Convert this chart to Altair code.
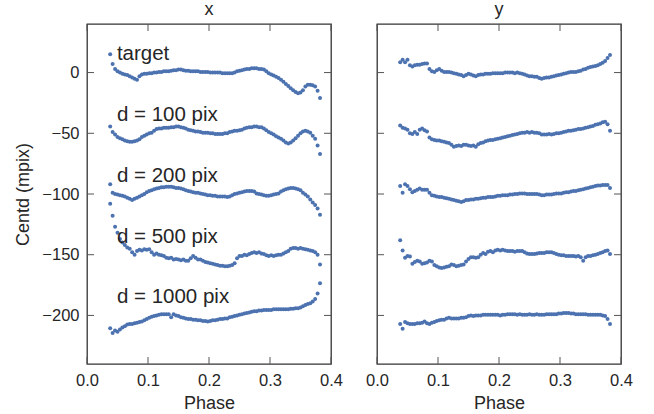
import altair as alt
import pandas as pd

# Orbital phase of each exposure
phase = [
    0.038, 0.042, 0.046, 0.050, 0.054, 0.058, 0.062, 0.066, 0.070, 0.074,
    0.078, 0.082, 0.086, 0.090, 0.094, 0.098, 0.102, 0.106, 0.110, 0.114,
    0.118, 0.122, 0.126, 0.130, 0.134, 0.138, 0.142, 0.146, 0.150, 0.154,
    0.158, 0.162, 0.166, 0.170, 0.174, 0.178, 0.182, 0.186, 0.190, 0.194,
    0.198, 0.202, 0.206, 0.210, 0.214, 0.218, 0.222, 0.226, 0.230, 0.234,
    0.238, 0.242, 0.246, 0.250, 0.254, 0.258, 0.262, 0.266, 0.270, 0.274,
    0.278, 0.282, 0.286, 0.290, 0.294, 0.298, 0.302, 0.306, 0.310, 0.314,
    0.318, 0.322, 0.326, 0.330, 0.334, 0.338, 0.342, 0.346, 0.350, 0.354,
    0.358, 0.362, 0.366, 0.370, 0.374, 0.378, 0.382,
]

series_names = ["target", "d = 100 pix", "d = 200 pix", "d = 500 pix", "d = 1000 pix"]
# each curve is shifted down by 50 mpix from the previous one
series_offsets = [0, -50, -100, -150, -200]

# Centroid shift along x (mpix, offsets included)
centd_x = {
    "target": [
        15, 7, 3, 1, 0, -1, -1.5, -2, -3, -4,
        -5, -6, -3, -1.5, -1, -1, -0.5, -0.5, 0, 0,
        0.5, 0.5, 1, 1, 1, 1.5, 2, 2, 2.5, 2.5,
        2, 1.5, 1.5, 1, 1, 1, 1, 0.5, 0.5, 0.5,
        0.5, 0, 0, 0, 0, 0, -0.5, -0.5, -0.5, -0.5,
        -0.5, 0, 1, 1.5, 2, 2.5, 3, 3, 3.5, 3.5,
        3.5, 3, 3, 2.5, 1, -0.5, -1.5, -2.5, -3.5, -4.5,
        -6, -7.5, -9.5, -11, -13, -14.5, -16, -17, -16.5, -14.5,
        -11.5, -10, -10, -10.5, -11.5, -15, -21,
    ],
    "d = 100 pix": [
        -44.5, -49, -51, -53, -54, -55, -56, -56.5, -57, -57,
        -56.5, -56, -55, -53, -52, -51, -50, -49.5, -48, -46.5,
        -46, -46, -45.5, -45.5, -45.5, -45, -45, -44.5, -44.5, -45,
        -45.5, -46, -47, -47.5, -48, -48.5, -48.5, -49, -49.5, -49.5,
        -49.5, -50, -50, -50.5, -50.5, -50.5, -50.5, -50, -50, -49,
        -48.5, -48, -48, -47.5, -47, -46, -45.5, -45, -45, -44.5,
        -44.5, -45, -45, -46, -47.5, -49, -50, -51, -52.5, -53.5,
        -54.5, -56, -57.5, -58.5, -57.5, -56, -54, -52, -50, -48.5,
        -48, -48.5, -49.5, -52, -54.5, -60, -67,
    ],
    "d = 200 pix": [
        -92, -99, -100, -100.5, -101, -101.5, -102, -103, -104, -105,
        -104, -103, -102, -101, -100, -98.5, -97.5, -97, -96, -95.5,
        -95, -94.5, -94.5, -94, -94, -94, -94.5, -95, -95, -95.5,
        -96, -97, -97.5, -98, -98.5, -99, -99, -99.5, -100, -100.5,
        -101, -101, -101.5, -101.5, -102, -102, -102, -102, -102.5, -102,
        -101, -100, -99.5, -99, -98.5, -98, -97.5, -97.5, -97.5, -98,
        -99.5, -100, -100.5, -101, -101.5, -101.5, -101, -100.5, -100, -99.5,
        -98, -97, -96, -95.5, -95, -95, -95.5, -96, -97, -99,
        -100.5, -102, -104.5, -107, -109, -112, -117,
    ],
    "d = 500 pix": [
        -108, -118, -127, -132, -137, -140, -142, -144, -145, -148,
        -150, -147, -146, -146.5, -145.5, -146, -145.5, -148, -150, -149,
        -150, -150.5, -151, -152.5, -153, -152.5, -154, -153.5, -154, -154.5,
        -154, -155, -155, -153, -151, -152.5, -154, -154, -155, -156,
        -156.5, -157, -157.5, -158, -158.5, -159, -159, -159.5, -159.5, -159,
        -158.5, -157, -153, -151, -151, -150, -150.5, -149.5, -148.5, -148,
        -148.5, -148, -149, -149.5, -150.5, -151, -150.5, -151, -150.5, -150,
        -150, -149, -148, -147, -145, -144.5, -144.5, -145, -144.5, -145,
        -145.5, -146, -146.5, -147, -148, -150, -158,
    ],
    "d = 1000 pix": [
        -210.5, -214.5, -212.5, -213.5, -211.5, -210, -209, -207.5, -207, -207,
        -206.5, -206, -205.5, -205, -204, -203, -202, -201, -200.5, -200,
        -199.5, -199, -199, -199, -199, -201.5, -199, -200, -200.5, -201.5,
        -202, -202.5, -203, -203, -203.5, -203.5, -204, -204, -204.5, -204.5,
        -205, -204.5, -204, -204, -203.5, -203, -203, -202.5, -202.5, -201.5,
        -201, -200.5, -200, -199.5, -199, -198.5, -198, -197.5, -197, -196.5,
        -196.5, -196, -196, -195.5, -195.5, -195.5, -195.5, -195, -195, -195,
        -195, -195, -195, -195, -194.5, -194.5, -194, -194, -193.5, -192.5,
        -191.5, -190.5, -190, -188.5, -186.5, -182, -173.5,
    ],
}

# Centroid shift along y (mpix, offsets included)
centd_y = {
    "target": [
        8.5, 10.5, 8.5, 10.5, 6, 5, 6, 6.5, 6.5, 7,
        7.5, 7.5, 3, 1, 0.5, 2, 3, 1.5, 0.5, 0.5,
        0.5, 0, -0.5, -1, -1.5, -2, -3, -2, -1, -1.5,
        -2.5, -3, -2, -1.5, -1.5, -1, -1, -1, -0.5, -0.5,
        -0.5, -0.5, -0.5, 0, 0, 0, 0, -0.5, 0, -0.5,
        -1, -1.5, -2.5, -3, -3, -3.5, -3.5, -4.5, -5, -4.5,
        -4, -4, -3.5, -3, -2.5, -2, -1.5, -1, -0.5, 0,
        0.5, 0.5, 0.5, 1, 1.5, 2.5, 3, 4, 4.5, 5,
        5.5, 6, 7, 8, 9.5, 12, 14.5,
    ],
    "d = 100 pix": [
        -43.5, -45.5, -46, -47, -50, -50.5, -49, -50.5, -47, -46,
        -47.5, -48.5, -53.5, -55, -55.5, -56, -56, -56.5, -57, -57.5,
        -58, -59.5, -61, -60.5, -60, -60.5, -59.5, -59.5, -60, -60.5,
        -60, -61, -59, -58, -57.5, -56.5, -56, -55.5, -55.5, -55,
        -54.5, -54, -53.5, -53, -52.5, -52, -51.5, -51, -50.5, -50,
        -49.5, -49.5, -49, -49.5, -49, -49.5, -49.5, -50, -51, -51,
        -51, -50.5, -51, -50.5, -50, -50, -49.5, -49, -48.5, -48,
        -48, -47.5, -47, -46.5, -46.5, -46, -45.5, -45, -44.5, -44,
        -43, -42.5, -42, -41, -40.5, -42.5, -48,
    ],
    "d = 200 pix": [
        -93.5, -99, -92, -93.5, -96, -98.5, -97.5, -96.5, -95.5, -96.5,
        -96.5, -96.5, -99, -101, -101.5, -102, -102.5, -102.5, -103, -103.5,
        -104, -104.5, -105, -105.5, -106, -106.5, -106, -105, -105, -104.5,
        -104.5, -104, -104, -103.5, -103, -103, -102.5, -102.5, -102.5, -102,
        -101.5, -101.5, -101, -101, -101, -100.5, -100.5, -100, -100, -99.5,
        -99.5, -99.5, -100, -100, -100, -100, -100, -100.5, -101, -101,
        -100.5, -100.5, -100.5, -100, -99.5, -99.5, -99.5, -99, -98.5, -98.5,
        -98, -97.5, -97.5, -97, -96.5, -96, -95.5, -95, -94.5, -94,
        -93.5, -93, -93, -92.5, -92.5, -92.5, -95,
    ],
    "d = 500 pix": [
        -138, -146.5, -152.5, -151, -151.5, -157.5, -156, -155, -155.5, -157.5,
        -157, -156.5, -155, -155.5, -158.5, -159.5, -160.5, -161, -160.5, -160,
        -159.5, -158, -158.5, -159.5, -159, -158.5, -158, -155.5, -153.5, -152,
        -152, -152.5, -152, -150, -148.5, -149.5, -147.5, -147, -148, -146.5,
        -146, -146.5, -146, -146.5, -147, -147, -147, -147.5, -147, -147,
        -147, -148, -149, -149.5, -149.5, -149.5, -149, -148.5, -148.5, -148.5,
        -148, -148, -148, -148.5, -149.5, -150, -150.5, -150.5, -151, -151,
        -151, -151, -151.5, -151, -152, -155, -152, -151, -151, -150.5,
        -150, -149.5, -148.5, -148, -147, -146.5, -149.5,
    ],
    "d = 1000 pix": [
        -207, -211, -205.5, -206.5, -207, -207, -207, -206.5, -206.5, -206,
        -205, -206.5, -207, -206, -205.5, -204.5, -204, -203.5, -203.5, -202.5,
        -202, -202.5, -202.5, -202.5, -202.5, -202, -202, -201.5, -200.5, -200,
        -200.5, -200, -200, -200, -199.5, -199.5, -199.5, -199.5, -199.5, -199.5,
        -199.5, -200, -199.5, -199.5, -199, -199, -199, -199, -199.5, -199,
        -199.5, -199.5, -199.5, -199, -199.5, -199.5, -199, -199.5, -199.5, -199.5,
        -199, -199, -199, -199, -199, -198.5, -198.5, -198, -198, -198,
        -198.5, -198.5, -199, -199, -199, -199, -199, -199.5, -199.5, -199.5,
        -199.5, -199.5, -199.5, -200, -200.5, -203, -207,
    ],
}

x_ticks = [0.0, 0.1, 0.2, 0.3, 0.4]
y_ticks = [-200, -150, -100, -50, 0]

rows = []
for comp, table in (("x", centd_x), ("y", centd_y)):
    for name in series_names:
        for p, v in zip(phase, table[name]):
            rows.append({"component": comp, "series": name, "phase": p, "centd": v})
df = pd.DataFrame(rows)

labels_df = pd.DataFrame({"series": series_names, "offset": series_offsets})

FONT = "Liberation Sans"
INK = "#262626"
TICK_INK = "#555555"
BLUE = "#4C72B0"
W, H = 244, 340
TICK = 7

x_scale = alt.Scale(domain=[0, 0.4], nice=False, zero=False)
y_scale = alt.Scale(domain=[-240, 40], nice=False, zero=False)

# typographic minus sign on negative tick labels
MINUS_LABEL = "datum.value < 0 ? '\u2212' + format(-datum.value, 'd') : format(datum.value, 'd')"


def panel(comp, show_y):
    x_enc = alt.X(
        "phase:Q",
        scale=x_scale,
        axis=alt.Axis(
            title="Phase", values=x_ticks, format=".1f", ticks=False, domain=False,
            grid=False, labelPadding=8, labelFlush=False, labelOverlap=False,
            titlePadding=6,
        ),
    )
    if show_y:
        y_enc = alt.Y(
            "centd:Q",
            scale=y_scale,
            axis=alt.Axis(
                title="Centd (mpix)", values=y_ticks, labelExpr=MINUS_LABEL,
                ticks=False, domain=False, grid=False, labelPadding=8,
                labelFlush=False, labelOverlap=False, titlePadding=9,
            ),
        )
    else:
        y_enc = alt.Y("centd:Q", scale=y_scale, axis=None)

    points = (
        alt.Chart(df[df["component"] == comp])
        .mark_circle(size=16, color=BLUE, opacity=1)
        .encode(x=x_enc, y=y_enc)
    )

    xt = pd.DataFrame({"phase": x_ticks})
    yt = pd.DataFrame({"centd": y_ticks})
    tick_mark = dict(color=TICK_INK, strokeWidth=1)
    top = alt.Chart(xt).mark_rule(**tick_mark).encode(
        x=x_enc, y=alt.value(0), y2=alt.value(TICK))
    bottom = alt.Chart(xt).mark_rule(**tick_mark).encode(
        x=x_enc, y=alt.value(H - TICK), y2=alt.value(H))
    left = alt.Chart(yt).mark_rule(**tick_mark).encode(
        y=y_enc, x=alt.value(0), x2=alt.value(TICK))
    right = alt.Chart(yt).mark_rule(**tick_mark).encode(
        y=y_enc, x=alt.value(W - TICK), x2=alt.value(W))

    layers = [points, top, bottom, left, right]
    if comp == "x":
        text = (
            alt.Chart(labels_df)
            .transform_calculate(phase="0.049", centd="datum.offset + 10")
            .mark_text(align="left", baseline="alphabetic", fontSize=20.5,
                       color=INK, font=FONT)
            .encode(x=x_enc, y=y_enc, text="series:N")
        )
        layers.append(text)

    return alt.layer(*layers).properties(
        width=W, height=H,
        title=alt.TitleParams(comp, fontSize=18, fontWeight="normal",
                              color=INK, font=FONT, offset=5),
    )


chart = (
    alt.hconcat(panel("x", True), panel("y", False), spacing=46, bounds="flush")
    .properties(padding={"left": 14, "top": -1, "right": 5, "bottom": 5})
    .configure_view(stroke="#333333", strokeWidth=1.3)
    .configure_axis(
        labelFont=FONT, titleFont=FONT, labelColor=INK, titleColor=INK,
        labelFontSize=16.5, titleFontSize=18, titleFontWeight="normal",
    )
    .configure_title(font=FONT)
    .configure_text(font=FONT)
)

chart.save("out.html", embed_options={"renderer": "svg", "actions": False})
